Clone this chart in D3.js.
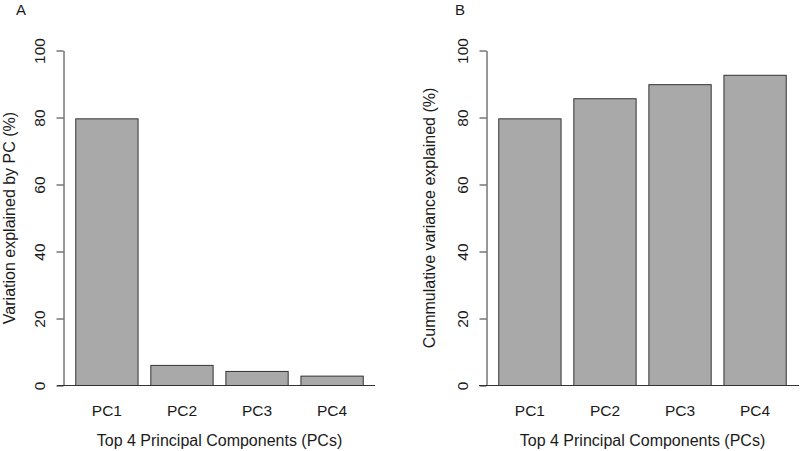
<!DOCTYPE html>
<html>
<head>
<meta charset="utf-8">
<script src="https://cdn.jsdelivr.net/npm/d3@7"></script>
<style>
  body { margin: 0; background: #fff; }
  text { font-family: "Liberation Sans", Arial, sans-serif; fill: #1a1a1a; }
</style>
</head>
<body>
<script>
// ─── DATA ───────────────────────────────────────────────
const components = ["PC1", "PC2", "PC3", "PC4"];
const varExplained = [79.6, 6.0, 4.2, 2.8];
const cumExplained = [79.6, 85.6, 89.8, 92.6];
const yTicks = [0, 20, 40, 60, 80, 100];

const width = 800, height = 451;
const svg = d3.select("body").append("svg")
  .attr("width", width)
  .attr("height", height);

// one panel = one R-style barplot
function panel(opts) {
  const g = svg.append("g");
  const y = d3.scaleLinear().domain([0, 100]).range([385.5, 50.5]);
  const x = d3.scaleBand()
    .domain(components)
    .range([opts.x0, opts.x1])
    .paddingInner(0.17)
    .paddingOuter(0.17);

  // baseline
  g.append("line")
    .attr("x1", opts.baseL).attr("x2", opts.baseR)
    .attr("y1", y(0)).attr("y2", y(0))
    .attr("stroke", "#333").attr("stroke-width", 1);

  // bars
  g.selectAll("rect.bar")
    .data(opts.values)
    .join("rect")
      .attr("class", "bar")
      .attr("x", (d, i) => x(components[i]))
      .attr("width", x.bandwidth())
      .attr("y", d => y(d))
      .attr("height", d => y(0) - y(d))
      .attr("fill", "#a9a9a9")
      .attr("stroke", "#333")
      .attr("stroke-width", 1);

  // y axis (R style, rotated labels)
  const axis = g.append("g")
    .attr("transform", `translate(${opts.axisX},0)`)
    .call(d3.axisLeft(y).tickValues(yTicks).tickSize(7).tickSizeOuter(0));
  axis.select(".domain").attr("stroke", "#333");
  axis.selectAll(".tick line").attr("stroke", "#333");
  axis.selectAll(".tick text")
    .attr("x", null).attr("dy", null)
    .attr("transform", "translate(-23,0) rotate(-90)")
    .attr("text-anchor", "middle")
    .attr("dominant-baseline", "middle")
    .style("font-size", "15.5px")
    .style("font-family", "Liberation Sans, Arial, sans-serif")
    .style("fill", "#1a1a1a");

  // x category labels
  g.selectAll("text.cat")
    .data(components)
    .join("text")
      .attr("class", "cat")
      .attr("x", d => x(d) + x.bandwidth() / 2)
      .attr("y", 416)
      .attr("text-anchor", "middle")
      .style("font-size", "15.5px")
      .text(d => d);

  // x title
  g.append("text")
    .attr("x", (opts.x0 + opts.x1) / 2)
    .attr("y", 446)
    .attr("text-anchor", "middle")
    .style("font-size", "16px")
    .text("Top 4 Principal Components (PCs)");

  // y title
  g.append("text")
    .attr("transform", `translate(${opts.yTitleX},${(y(0) + y(100)) / 2}) rotate(-90)`)
    .attr("text-anchor", "middle")
    .attr("dominant-baseline", "middle")
    .style("font-size", "16px")
    .text(opts.yTitle);

  // panel letter
  g.append("text")
    .attr("x", opts.letterX)
    .attr("y", 14.5)
    .style("font-size", "15px")
    .text(opts.letter);
}

panel({
  letter: "A", letterX: 16,
  values: varExplained,
  yTitle: "Variation explained by PC (%)",
  x0: 63, x1: 376, axisX: 63.5, baseL: 57, baseR: 375, yTitleX: 11
});

panel({
  letter: "B", letterX: 455,
  values: cumExplained,
  yTitle: "Cummulative variance explained (%)",
  x0: 486, x1: 799, axisX: 486.5, baseL: 479, baseR: 799, yTitleX: 431
});
</script>
</body>
</html>
